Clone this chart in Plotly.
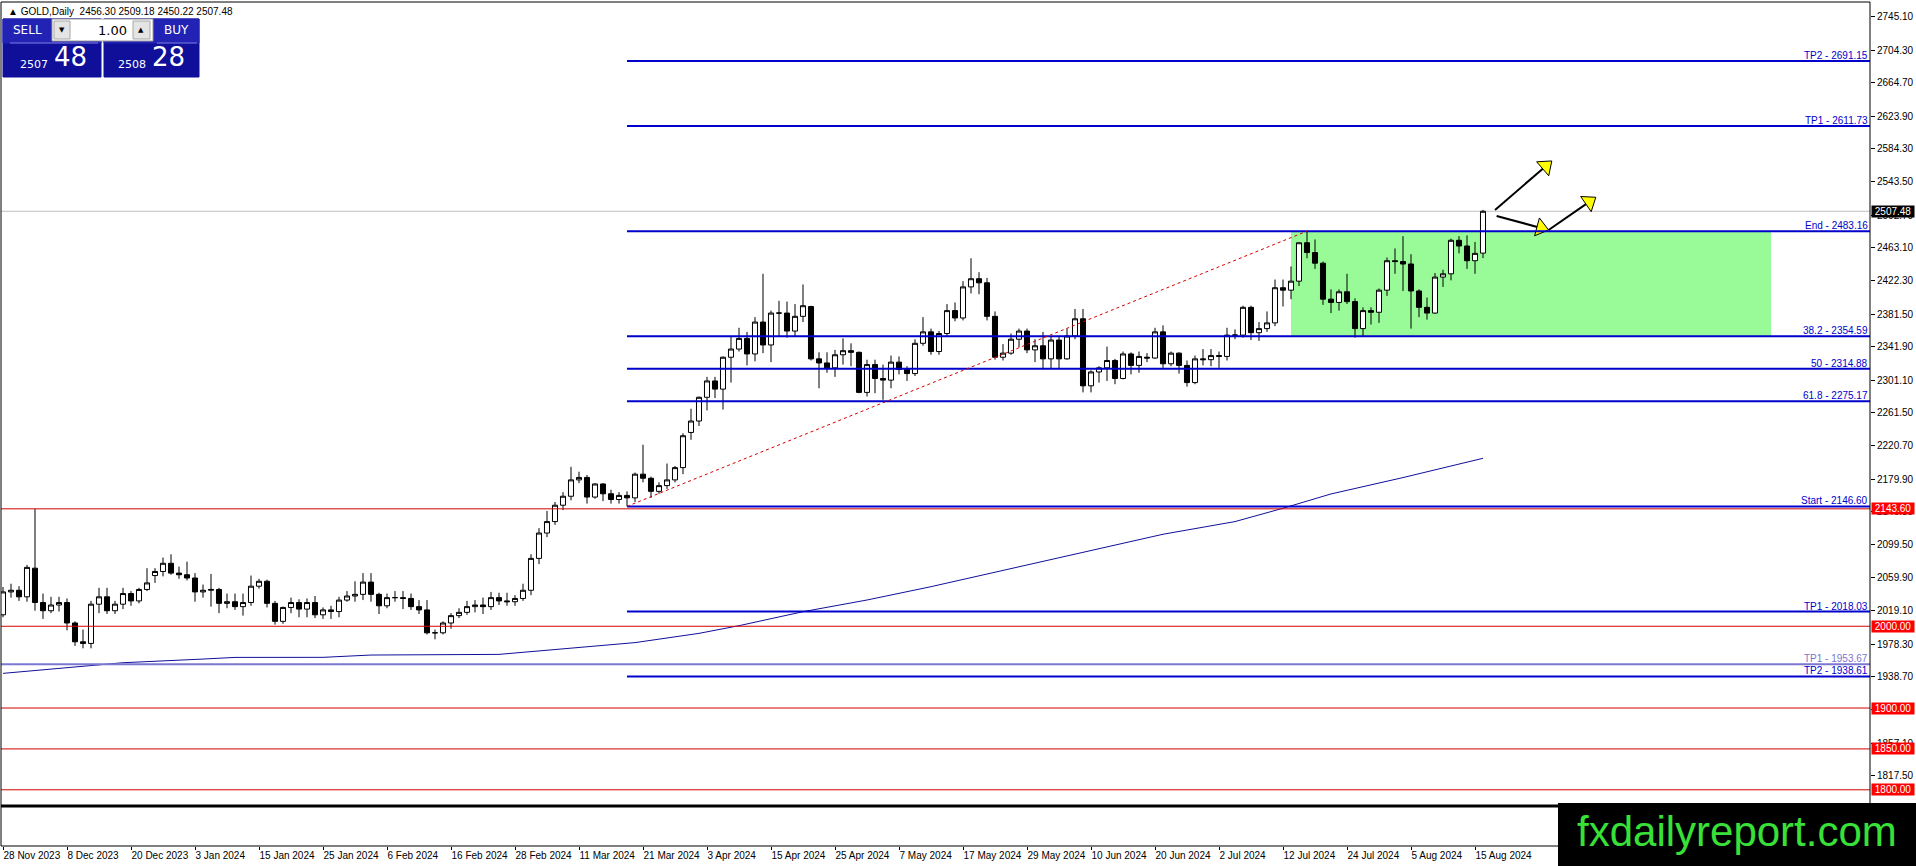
import numpy as np
import plotly.graph_objects as go

# Daily GOLD bars, 28 Nov 2023 .. 16 Aug 2024 (one bar per trading day)
OPEN = [2014, 2042, 2044, 2036, 2071, 2029, 2019, 2026, 2029, 2004,
        1981, 1979, 2027, 2036, 2019, 2027, 2040, 2031, 2045, 2062,
        2067, 2077, 2065, 2063, 2059, 2042, 2044, 2045, 2028, 2030,
        2024, 2029, 2049, 2055, 2028, 2006, 2023, 2029, 2021, 2029,
        2014, 2020, 2018, 2032, 2037, 2039, 2054, 2039, 2025, 2035,
        2035, 2034, 2024, 2020, 1992, 1992, 2004, 2013, 2017, 2024,
        2026, 2024, 2035, 2031, 2030, 2034, 2044, 2083, 2114, 2128,
        2148, 2159, 2179, 2182, 2158, 2174, 2162, 2155, 2160, 2157,
        2186, 2181, 2165, 2172, 2179, 2194, 2237, 2251, 2280, 2300,
        2290, 2329, 2339, 2352, 2333, 2372, 2344, 2383, 2383, 2361,
        2379, 2391, 2327, 2322, 2316, 2332, 2337, 2335, 2286, 2320,
        2303, 2301, 2323, 2314, 2309, 2346, 2360, 2336, 2358, 2386,
        2377, 2415, 2425, 2420, 2379, 2329, 2334, 2351, 2361, 2338,
        2343, 2327, 2350, 2327, 2355, 2376, 2294, 2311, 2316, 2325,
        2303, 2333, 2319, 2329, 2328, 2360, 2321, 2334, 2319, 2298,
        2327, 2326, 2331, 2330, 2356, 2356, 2390, 2359, 2364, 2371,
        2414, 2411, 2422, 2469, 2457, 2444, 2400, 2396, 2409, 2397,
        2364, 2386, 2384, 2411, 2447, 2446, 2443, 2410, 2390, 2383,
        2427, 2431, 2472, 2465, 2447, 2456.30]
HIGH = [2048, 2052, 2049, 2075, 2143.6, 2040, 2036, 2036, 2034, 2006,
        1996, 2031, 2047, 2047, 2031, 2047, 2043, 2047, 2071, 2071,
        2084, 2088, 2073, 2079, 2065, 2051, 2064, 2047, 2040, 2040,
        2040, 2062, 2058, 2057, 2031, 2024, 2035, 2033, 2034, 2037,
        2023, 2025, 2036, 2043, 2055, 2065, 2065, 2041, 2040, 2043,
        2043, 2040, 2032, 2032, 1996, 2006, 2016, 2022, 2031, 2032,
        2035, 2042, 2041, 2041, 2038, 2052, 2088, 2120, 2141, 2152,
        2164, 2195, 2189, 2185, 2175, 2175, 2167, 2164, 2165, 2188,
        2222, 2183, 2176, 2199, 2196, 2236, 2266, 2281, 2305, 2305,
        2330, 2354, 2365, 2360, 2378, 2431, 2386, 2398, 2397, 2394,
        2418, 2392, 2335, 2335, 2338, 2352, 2346, 2336, 2326, 2326,
        2320, 2331, 2330, 2318, 2351, 2378, 2364, 2361, 2394, 2396,
        2422, 2450, 2433, 2426, 2385, 2345, 2358, 2364, 2364, 2351,
        2360, 2354, 2354, 2364, 2388, 2388, 2313, 2318, 2342, 2327,
        2336, 2335, 2336, 2334, 2365, 2368, 2336, 2335, 2325, 2331,
        2339, 2339, 2336, 2365, 2363, 2392, 2392, 2372, 2385, 2424,
        2424, 2440, 2469, 2483.16, 2473, 2446, 2412, 2412, 2431, 2401,
        2390, 2390, 2413, 2451, 2462, 2477, 2455, 2412, 2402, 2432,
        2436, 2474, 2477, 2478, 2470, 2509.18]
LOW = [2011, 2035, 2031, 2030, 2019, 2009, 2016, 2018, 1995, 1976,
       1973, 1973, 2016, 2015, 2015, 2021, 2025, 2028, 2043, 2053,
       2061, 2063, 2058, 2056, 2030, 2035, 2024, 2016, 2022, 2020,
       2013, 2025, 2046, 2023, 2002, 2003, 2016, 2011, 2011, 2010,
       2009, 2009, 2011, 2030, 2030, 2032, 2030, 2015, 2022, 2030,
       2021, 2020, 2015, 1990, 1984, 1990, 1997, 2010, 2014, 2017,
       2015, 2020, 2026, 2025, 2025, 2031, 2038, 2076, 2109, 2124,
       2142, 2154, 2175, 2150, 2156, 2153, 2150, 2150, 2146.6, 2152,
       2176, 2157, 2162, 2168, 2176, 2186, 2228, 2245, 2264, 2279,
       2265, 2298, 2336, 2319, 2324, 2334, 2323, 2354, 2353, 2355,
       2372, 2325, 2291, 2310, 2305, 2320, 2318, 2285, 2281, 2285,
       2277, 2291, 2308, 2300, 2306, 2343, 2332, 2332, 2354, 2373,
       2374, 2407, 2406, 2374, 2326, 2325, 2332, 2341, 2334, 2323,
       2314, 2315, 2315, 2326, 2351, 2286, 2286, 2298, 2300, 2296,
       2302, 2308, 2310, 2323, 2327, 2316, 2318, 2309, 2293, 2296,
       2319, 2318, 2316, 2325, 2351, 2353, 2350, 2349, 2360, 2367,
       2391, 2400, 2416, 2450, 2437, 2393, 2383, 2386, 2394, 2353,
       2355, 2369, 2371, 2404, 2431, 2410, 2364, 2378, 2375, 2382,
       2415, 2423, 2456, 2437, 2431, 2450.22]
CLOSE = [2042, 2044, 2036, 2072, 2029, 2019, 2026, 2029, 2004, 1981,
         1979, 2027, 2036, 2019, 2027, 2040, 2031, 2045, 2053, 2067,
         2077, 2065, 2063, 2059, 2042, 2044, 2045, 2028, 2030, 2024,
         2029, 2049, 2055, 2028, 2006, 2023, 2029, 2021, 2029, 2014,
         2020, 2018, 2032, 2037, 2039, 2054, 2039, 2025, 2035, 2035,
         2034, 2024, 2020, 1992, 1992, 2004, 2013, 2017, 2024, 2026,
         2024, 2035, 2031, 2030, 2034, 2044, 2083, 2114, 2128, 2148,
         2159, 2179, 2182, 2158, 2174, 2162, 2155, 2160, 2157, 2186,
         2181, 2165, 2172, 2179, 2194, 2233, 2251, 2280, 2300, 2290,
         2329, 2339, 2352, 2333, 2372, 2344, 2383, 2383, 2361, 2379,
         2392, 2327, 2322, 2316, 2332, 2337, 2335, 2286, 2320, 2303,
         2301, 2323, 2314, 2309, 2346, 2360, 2336, 2358, 2386, 2377,
         2415, 2425, 2420, 2379, 2329, 2334, 2351, 2361, 2338, 2343,
         2327, 2350, 2327, 2355, 2376, 2294, 2311, 2316, 2325, 2303,
         2333, 2319, 2330, 2328, 2360, 2321, 2334, 2319, 2298, 2327,
         2326, 2331, 2330, 2356, 2356, 2390, 2359, 2364, 2371, 2414,
         2411, 2422, 2469, 2457, 2444, 2400, 2396, 2409, 2397, 2364,
         2386, 2384, 2411, 2447, 2446, 2443, 2410, 2390, 2383, 2427,
         2431, 2472, 2465, 2447, 2456, 2507.48]

# time axis labels, one every 8 bars
DATE_LABELS = ["28 Nov 2023", "8 Dec 2023", "20 Dec 2023", "3 Jan 2024", "15 Jan 2024",
               "25 Jan 2024", "6 Feb 2024", "16 Feb 2024", "28 Feb 2024", "11 Mar 2024",
               "21 Mar 2024", "3 Apr 2024", "15 Apr 2024", "25 Apr 2024", "7 May 2024",
               "17 May 2024", "29 May 2024", "10 Jun 2024", "20 Jun 2024", "2 Jul 2024",
               "12 Jul 2024", "24 Jul 2024", "5 Aug 2024", "15 Aug 2024"]
LABEL_STEP = 8

# moving average (bar index -> price)
MA_BARS = [0, 12, 15, 25, 29, 40, 46, 62, 79, 87, 92, 100, 108, 116, 125,
           135, 145, 154, 160, 166, 175, 185]
MA_VALUES = [1942.4, 1952.6, 1955.4, 1959.9, 1961.9, 1962.0, 1964.8, 1965.6, 1980.0,
             1991.3, 2000.7, 2017.8, 2032.1, 2048.4, 2068.5, 2090.0, 2112.5, 2128.0,
             2144.3, 2161.8, 2181.8, 2205.4]

# fibonacci expansion drawn from the 19 Mar low
FIB_START_BAR = 78
FIB_NAMES = ["TP2", "TP1", "End", "38.2", "50", "61.8", "Start", "TP1", "TP2"]
FIB_PRICES = [2691.15, 2611.73, 2483.16, 2354.59, 2314.88, 2275.17, 2146.60, 2018.03, 1938.61]
OLD_TP_NAME = "TP1"
OLD_TP_PRICE = 1953.67

RED_LEVELS = [2143.60, 2000.00, 1900.00, 1850.00, 1800.00]
LAST_PRICE = 2507.48

TREND_BARS = [78, 163]
TREND_PRICES = [2146.60, 2483.16]

BOX_BARS = [161, 221]
BOX_PRICES = [2354.59, 2483.16]

ARROW_BARS = [[186.5, 193.6], [186.7, 193.2], [193.2, 199.1]]
ARROW_PRICES = [[2509.1, 2569.0], [2501.7, 2484.6], [2484.6, 2524.6]]

Y_TICKS = [2745.10, 2704.30, 2664.70, 2623.90, 2584.30, 2543.50, 2502.70, 2463.10,
           2422.30, 2381.50, 2341.90, 2301.10, 2261.50, 2220.70, 2179.90, 2140.30,
           2099.50, 2059.90, 2019.10, 1978.30, 1938.70, 1897.90, 1857.10, 1817.50]

# page geometry (MT4 style window)
W, H = 1916, 866
ML, MR, MT, MB = 1, 46, 2, 20
X_RANGE = [-0.25, 233.375]
Y_RANGE = [1780.2, 2763.4]
MAIN_BOTTOM = 0.0474
PX_PER_BAR = 8.0
PX_PER_USD = 0.8177

UI_FONT = "Liberation Sans, Arial, sans-serif"
FIB_BLUE = "#0000cc"


def fx(px):
    return (px - ML) / (W - ML - MR)


def fy(py):
    return (H - MB - py) / (H - MT - MB)


def build_figure():
    bars = np.arange(len(OPEN))
    fig = go.Figure()

    fig.add_trace(go.Scatter(x=MA_BARS, y=MA_VALUES, mode="lines",
                             line=dict(color="#10109a", width=1), hoverinfo="skip"))

    fig.add_trace(go.Candlestick(
        x=bars, open=OPEN, high=HIGH, low=LOW, close=CLOSE,
        increasing=dict(line=dict(color="black", width=1), fillcolor="white"),
        decreasing=dict(line=dict(color="black", width=1), fillcolor="black"),
        whiskerwidth=0, hoverinfo="skip"))

    # arrows: black shaft + yellow head
    for xs, ys in zip(ARROW_BARS, ARROW_PRICES):
        dx = (xs[1] - xs[0]) * PX_PER_BAR
        dy = (ys[1] - ys[0]) * PX_PER_USD
        angle = float(np.degrees(np.arctan2(dx, dy)))
        f = 1 - 8 / np.hypot(dx, dy)
        hx = xs[0] + (xs[1] - xs[0]) * f
        hy = ys[0] + (ys[1] - ys[0]) * f
        fig.add_trace(go.Scatter(x=[xs[0], hx], y=[ys[0], hy], mode="lines",
                                 line=dict(color="black", width=2), hoverinfo="skip"))
        fig.add_trace(go.Scatter(x=[hx], y=[hy], mode="markers", hoverinfo="skip",
                                 marker=dict(symbol="triangle-up", size=16, angle=angle,
                                             color="#ffff00",
                                             line=dict(color="black", width=1))))

    shapes = []
    shapes.append(dict(type="rect", xref="x", yref="y", x0=BOX_BARS[0], x1=BOX_BARS[1],
                       y0=BOX_PRICES[0], y1=BOX_PRICES[1], fillcolor="#98fb98",
                       line=dict(width=0), layer="below"))
    for lvl in RED_LEVELS:
        shapes.append(dict(type="line", xref="x", yref="y", x0=X_RANGE[0], x1=X_RANGE[1],
                           y0=lvl, y1=lvl, line=dict(color="#d40000", width=1), layer="above"))
    shapes.append(dict(type="line", xref="x", yref="y", x0=X_RANGE[0], x1=X_RANGE[1],
                       y0=LAST_PRICE, y1=LAST_PRICE, line=dict(color="#c0c0c0", width=1),
                       layer="below"))
    shapes.append(dict(type="line", xref="x", yref="y", x0=X_RANGE[0], x1=X_RANGE[1],
                       y0=OLD_TP_PRICE, y1=OLD_TP_PRICE, line=dict(color="#7b76d0", width=2),
                       layer="above"))
    for p in FIB_PRICES:
        shapes.append(dict(type="line", xref="x", yref="y", x0=FIB_START_BAR, x1=X_RANGE[1],
                           y0=p, y1=p, line=dict(color=FIB_BLUE, width=2), layer="above"))
    shapes.append(dict(type="line", xref="x", yref="y", x0=TREND_BARS[0], x1=TREND_BARS[1],
                       y0=TREND_PRICES[0], y1=TREND_PRICES[1],
                       line=dict(color="#d40000", width=1, dash="dot"), layer="above"))

    # window frame, sub-window separator
    shapes.append(dict(type="rect", xref="paper", yref="paper", x0=0, x1=1, y0=0, y1=1,
                       line=dict(color="black", width=1), layer="above"))
    shapes.append(dict(type="line", xref="paper", yref="paper", x0=0, x1=1,
                       y0=MAIN_BOTTOM, y1=MAIN_BOTTOM, line=dict(color="black", width=3),
                       layer="above"))

    # one-click trading panel
    panel = [
        (3, 101, 19, 77, "#0f0f9a", None), (104, 199, 19, 77, "#0f0f9a", None),
        (3, 101, 19, 43, "#2222b4", None), (104, 199, 19, 43, "#2222b4", None),
        (52, 153, 19, 41, "white", "#9a9a9a"),
        (54, 70, 21, 39, "#e4e4e4", "#a8a8a8"), (133, 150, 21, 39, "#e4e4e4", "#a8a8a8"),
    ]
    for x0, x1, y0, y1, fill, edge in panel:
        shapes.append(dict(type="rect", xref="paper", yref="paper", x0=fx(x0), x1=fx(x1),
                           y0=fy(y1), y1=fy(y0), fillcolor=fill,
                           line=dict(color=edge or fill, width=1), layer="above"))
    for x0, x1 in [(10, 98), (157, 197)]:
        shapes.append(dict(type="line", xref="paper", yref="paper", x0=fx(x0), x1=fx(x1),
                           y0=fy(43), y1=fy(43), line=dict(color="#7a7ae0", width=1),
                           layer="above"))

    # watermark box
    shapes.append(dict(type="rect", xref="paper", yref="paper", x0=fx(1558), x1=fx(1920),
                       y0=fy(870), y1=fy(803), fillcolor="black", line=dict(width=0),
                       layer="above"))

    ann = []
    for name, p in zip(FIB_NAMES, FIB_PRICES):
        ann.append(dict(xref="paper", yref="y", x=1, y=p, xanchor="right", yanchor="bottom",
                        xshift=-1, yshift=-1, showarrow=False, text=f"{name} - {p:.2f}",
                        font=dict(family=UI_FONT, size=10, color=FIB_BLUE), borderpad=0))
    ann.append(dict(xref="paper", yref="y", x=1, y=OLD_TP_PRICE, xanchor="right",
                    yanchor="bottom", xshift=-1, yshift=-1, showarrow=False,
                    text=f"{OLD_TP_NAME} - {OLD_TP_PRICE:.2f}", borderpad=0,
                    font=dict(family=UI_FONT, size=10, color="#7b76d0")))
    for lvl in RED_LEVELS:
        ann.append(dict(xref="paper", yref="y", x=1, y=lvl, xanchor="left", yanchor="middle",
                        xshift=1, showarrow=False, text=f" {lvl:.2f} ", bgcolor="#ff0000",
                        borderpad=0, font=dict(family=UI_FONT, size=10, color="white")))
    ann.append(dict(xref="paper", yref="y", x=1, y=LAST_PRICE, xanchor="left", yanchor="middle",
                    xshift=1, showarrow=False, text=f" {LAST_PRICE:.2f} ", bgcolor="black",
                    borderpad=0, font=dict(family=UI_FONT, size=10, color="white")))

    hdr = f"{OPEN[-1]:.2f} {HIGH[-1]:.2f} {LOW[-1]:.2f} {CLOSE[-1]:.2f}"
    texts = [
        (6, 11, "left", "\u25b2 GOLD,Daily  " + hdr, 10, "black", UI_FONT),
        (27, 30, "center", "SELL", 12, "white", "DejaVu Sans"),
        (176, 30, "center", "BUY", 12, "white", "DejaVu Sans"),
        (62, 30, "center", "\u25bc", 7, "black", "DejaVu Sans"),
        (141, 30, "center", "\u25b2", 7, "black", "DejaVu Sans"),
        (129, 30, "right", "1.00", 13, "black", "DejaVu Sans"),
        (50, 64, "right", "2507", 11, "white", "DejaVu Sans"),
        (52, 57, "left", "48", 26, "white", "DejaVu Sans"),
        (148, 64, "right", "2508", 11, "white", "DejaVu Sans"),
        (150, 57, "left", "28", 26, "white", "DejaVu Sans"),
        (1737, 831, "center", "fxdailyreport.com", 42, "#38e038", "Liberation Sans, Arial"),
    ]
    for x, y, anchor, t, size, color, fam in texts:
        ann.append(dict(xref="paper", yref="paper", x=fx(x), y=fy(y), xanchor=anchor,
                        yanchor="middle", showarrow=False, text=t,
                        font=dict(family=fam, size=size, color=color)))

    fig.update_layout(
        width=W, height=H, margin=dict(l=ML, r=MR, t=MT, b=MB, autoexpand=False),
        paper_bgcolor="white", plot_bgcolor="white", showlegend=False,
        boxgap=0.1, boxgroupgap=0.3,
        font=dict(family=UI_FONT, size=10, color="black"),
        shapes=shapes, annotations=ann,
        xaxis=dict(range=X_RANGE, anchor="free", position=0, showgrid=False, zeroline=False,
                   showline=False, ticks="outside", ticklen=3, tickcolor="black",
                   tickvals=[i * LABEL_STEP for i in range(len(DATE_LABELS))],
                   ticktext=DATE_LABELS, ticklabelposition="outside right", tickangle=0,
                   automargin=False, tickfont=dict(family=UI_FONT, size=10),
                   rangeslider=dict(visible=False)),
        yaxis=dict(range=Y_RANGE, domain=[MAIN_BOTTOM, 1], side="right", showgrid=False,
                   zeroline=False, showline=False, ticks="outside", ticklen=4,
                   tickcolor="black", tickvals=Y_TICKS, automargin=False,
                   ticktext=[f"{v:.2f}" for v in Y_TICKS],
                   tickfont=dict(family=UI_FONT, size=10)),
    )
    return fig


def main():
    fig = build_figure()
    # drop the browser's default page margin so the 1916x866 figure fills the window
    fig.write_html("out.html", config={"displayModeBar": False},
                   post_script="document.body.style.margin='0';"
                               "document.body.style.overflow='hidden';")


if __name__ == "__main__":
    main()
